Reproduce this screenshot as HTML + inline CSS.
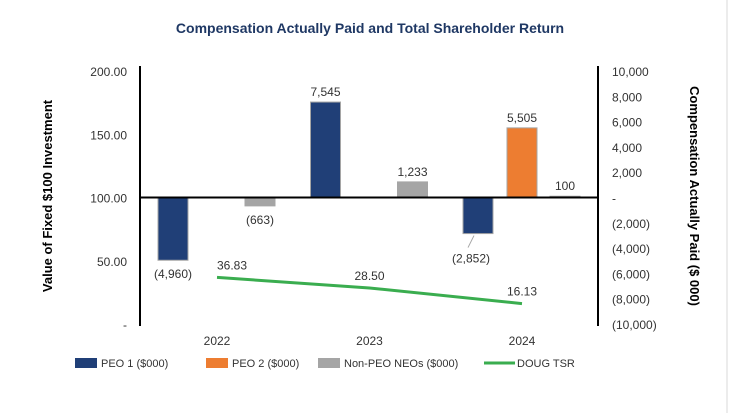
<!DOCTYPE html>
<html><head><meta charset="utf-8"><style>
body{margin:0;background:#fff;}
svg{display:block;font-family:"Liberation Sans",sans-serif;}
</style></head><body>
<svg id="chart" width="752" height="413" viewBox="0 0 752 413">
<rect x="0.5" y="0.5" width="751" height="412" fill="#fff" stroke="#fff"/>
<line x1="727" y1="0" x2="727" y2="413" stroke="#d9d9d9"/>
<text x="370" y="33" text-anchor="middle" font-size="14" font-weight="bold" fill="#1f3864">Compensation Actually Paid and Total Shareholder Return</text>
<text transform="translate(52,196) rotate(-90)" text-anchor="middle" font-size="13" font-weight="bold" fill="#000">Value of Fixed $100 Investment</text>
<text transform="translate(690,196) rotate(90)" text-anchor="middle" font-size="13" font-weight="bold" fill="#000">Compensation Actually Paid ($ 000)</text>
<g id="axes"></g>
<g id="bars"></g>
<g id="line"></g>
<g id="legend"></g>
</svg>
<script>
const years = ["2022","2023","2024"];
const peo1 = [-4960, 7545, -2852];
const peo2 = [null, null, 5505];
const nonPeo = [-663, 1233, 100];
const tsr = [36.83, 28.50, 16.13];
const leftTicks = [200, 150, 100, 50, 0];
const leftTickLabels = ["200.00","150.00","100.00","50.00","-"];
const rightTicks = [10000,8000,6000,4000,2000,0,-2000,-4000,-6000,-8000,-10000];
const rightTickLabels = ["10,000","8,000","6,000","4,000","2,000","-","(2,000)","(4,000)","(6,000)","(8,000)","(10,000)"];

const NS="http://www.w3.org/2000/svg";
const plotL=140, plotR=598, yTop=71, yBot=324;
const yL=v=>yBot-(v/200)*(yBot-yTop);
const yR=v=>yBot-((v+10000)/20000)*(yBot-yTop);
const xC=i=>217+i*152.5;
function mk(p,tag,a,txt){const e=document.createElementNS(NS,tag);for(const k in a)e.setAttribute(k,a[k]);if(txt!=null)e.textContent=txt;p.appendChild(e);return e;}
const fmt=v=>{const s=Math.abs(v).toLocaleString('en-US');return v<0?"("+s+")":s;};

const axes=document.getElementById('axes');
let e;
e=mk(axes,'line',{x1:plotL,y1:66,x2:plotL,y2:326,stroke:'#000','stroke-width':2});

e=mk(axes,'line',{x1:plotR,y1:66,x2:plotR,y2:326,stroke:'#000','stroke-width':2});

leftTicks.forEach((t,i)=>{
  e=mk(axes,'text',{x:127,y:yL(t)+5,'text-anchor':'end','font-size':12,fill:'#333'},leftTickLabels[i]);
  
});
rightTicks.forEach((t,i)=>{
  e=mk(axes,'text',{x:612,y:yR(t)+5,'font-size':12,fill:'#333'},rightTickLabels[i]);
  
});
years.forEach((y,i)=>{
  e=mk(axes,'text',{x:xC(i),y:345,'text-anchor':'middle','font-size':12,fill:'#333'},y);
  
});

const bars=document.getElementById('bars');
const series=[{d:peo1,off:-44,c:'#203f77',n:'peo1'},{d:peo2,off:0,c:'#ed7d31',n:'peo2'},{d:nonPeo,off:43,c:'#a5a5a5',n:'non-peo'}];
const y0=yR(0);
series.forEach(s=>{
  s.d.forEach((v,i)=>{
    if(v==null)return;
    const cx=xC(i)+s.off, yv=yR(v);
    e=mk(bars,'rect',{x:cx-15,y:Math.min(yv,y0),width:30,height:Math.abs(yv-y0),fill:s.c,stroke:'#a5a5a5','stroke-width':1});
    
    let ly=v<0?yv+18:yv-6, lx=cx;
    if(s.n==='peo1' && i===2){
      ly=yv+29; lx=cx-7;
      e=mk(bars,'line',{x1:cx-4,y1:yv+2,x2:cx-10,y2:yv+14,stroke:'#a5a5a5','stroke-width':1});
      
    }
    e=mk(bars,'text',{x:lx,y:ly,'text-anchor':'middle','font-size':12,fill:'#333'},fmt(v));
    
  });
});
e=mk(bars,'line',{x1:plotL,y1:y0,x2:plotR,y2:y0,stroke:'#000','stroke-width':2});


const line=document.getElementById('line');
e=mk(line,'polyline',{points:tsr.map((v,i)=>xC(i)+','+yL(v)).join(' '),fill:'none',stroke:'#3aad4f','stroke-width':3});

tsr.forEach((v,i)=>{
  e=mk(line,'text',{x:xC(i)+(i==0?0:-15),y:yL(v)-8,'font-size':12,fill:'#333'},v.toFixed(2));
  
});

const lg=document.getElementById('legend');
const items=[{x:75,c:'#203f77',t:'PEO 1 ($000)'},{x:206,c:'#ed7d31',t:'PEO 2 ($000)'},{x:318,c:'#a5a5a5',t:'Non-PEO NEOs ($000)'}];
items.forEach(it=>{
  e=mk(lg,'rect',{x:it.x,y:358,width:22,height:10,fill:it.c});
  
  e=mk(lg,'text',{x:it.x+26,y:367,'font-size':11,fill:'#333'},it.t);
  
});
e=mk(lg,'line',{x1:484,y1:363,x2:515,y2:363,stroke:'#3aad4f','stroke-width':3});

e=mk(lg,'text',{x:517,y:367,'font-size':11,fill:'#333'},'DOUG TSR');

</script>
</body></html>
